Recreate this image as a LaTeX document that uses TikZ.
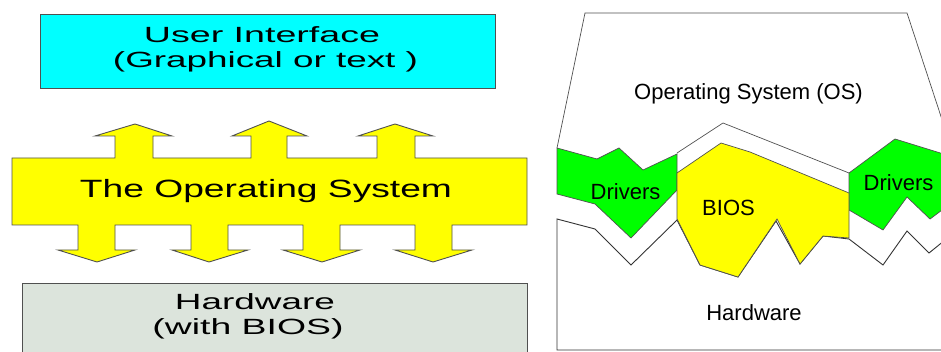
\documentclass[tikz,border=0pt]{standalone}
\usepackage{fontspec}
\usepackage{graphicx}
\setmainfont{Liberation Sans}
\newcommand\stretchto[2]{\resizebox{#1}{\height}{#2}}
\newcommand\fsz[1]{\fontsize{#1}{#1}\selectfont}
\definecolor{uicyan}{HTML}{00FFFF}
\definecolor{osyellow}{HTML}{FFFF00}
\definecolor{hwgrey}{HTML}{DCE4DC}
\definecolor{drvgreen}{HTML}{00FF00}
\definecolor{edge}{HTML}{505050}
\tikzset{
  panel/.style={draw=edge, line width=0.9pt},
  thinedge/.style={draw=edge, line width=0.7pt},
  lbl/.style={anchor=base, inner sep=0pt},
}
\begin{document}
\begin{tikzpicture}[x=1pt, y=-1pt]
\useasboundingbox (0,0) rectangle (941,352);
\fill[white] (0,0) rectangle (941,352);
\clip (0,0) rectangle (941,352);

% ---------- layered view ----------
\path[panel, fill=uicyan] (40,14) rectangle (495,88);
\node[lbl] (ui1) at (262,43) {\fsz{22}\stretchto{236pt}{User Interface}};
\node[lbl] (ui2) at (265.5,68) {\fsz{22}\stretchto{305pt}{(Graphical or text )}};

% operating system band with its up and down arrows
\path[panel, fill=osyellow]
  (12,158) -- (115,158) -- (115,136) -- (95,136) -- (135,124) -- (172,136) -- (153,136) -- (153,158)
  -- (251,158) -- (251,136) -- (232,136) -- (269,121) -- (307,136) -- (287,136) -- (287,158)
  -- (377,158) -- (377,136) -- (358,136) -- (395,124) -- (433,136) -- (415,136) -- (415,158)
  -- (527,158) -- (527,225)
  -- (452,225) -- (452,250) -- (472,250) -- (433,262) -- (395,250) -- (415,250) -- (415,225)
  -- (340,225) -- (340,250) -- (360,250) -- (322,262) -- (283,250) -- (303,250) -- (303,225)
  -- (228,225) -- (228,250) -- (248,250) -- (209,262) -- (172,250) -- (191,250) -- (191,225)
  -- (115,225) -- (115,250) -- (135,250) -- (97,262) -- (58,250) -- (78,250) -- (78,225)
  -- (12,225) -- cycle;
\node[lbl] (os) at (266,198) {\fsz{25}\stretchto{372pt}{The Operating System}};

\path[panel, fill=hwgrey] (22,283) rectangle (527,360);
\node[lbl] (hw1) at (255,309) {\fsz{22}\stretchto{160pt}{Hardware}};
\node[lbl] (hw2) at (248,334) {\fsz{22}\stretchto{191pt}{(with BIOS)}};

% ---------- cut-away view ----------
% hardware block
\path[draw=black!80, line width=0.9pt, fill=white]
  (557,219) -- (595,229) -- (631,265) -- (677,220) -- (700,265) -- (738,277) -- (776,221)
  -- (800,264) -- (823,236) -- (849,239) -- (883,265) -- (907,231) -- (929,253) -- (950,236)
  -- (950,350) -- (557,350) -- cycle;
% operating system block outline
\draw[thinedge] (557,148) -- (585,13) -- (907,13) -- (952,150);
\draw[thinedge] (677,153) -- (723,123) -- (849,173);
% drivers
\path[thinedge, fill=drvgreen]
  (557,148) -- (597,159) -- (619,148) -- (643,170) -- (677,154) -- (677,190)
  -- (631,238) -- (595,204) -- (557,194) -- cycle;
\path[thinedge, fill=drvgreen]
  (849,173) -- (895,139) -- (950,156) -- (950,204) -- (930,219) -- (907,197)
  -- (883,230) -- (849,210) -- cycle;
% BIOS
\path[thinedge, fill=osyellow]
  (677,173) -- (721,143) -- (750,152) -- (849,193) -- (849,238) -- (823,236) -- (800,264)
  -- (777,219) -- (738,277) -- (700,265) -- (677,219) -- cycle;

\node[lbl, anchor=base west] (osr) at (634,100) {\fsz{22}Operating System (OS)};
\node[lbl] (drv1) at (625.5,200) {\fsz{22}Drivers};
\node[lbl] (bios) at (728.5,216) {\fsz{22}BIOS};
\node[lbl] (drv2) at (898.5,191) {\fsz{22}Drivers};
\node[lbl] (hwr) at (754,320) {\fsz{22}Hardware};
\end{tikzpicture}
\end{document}
